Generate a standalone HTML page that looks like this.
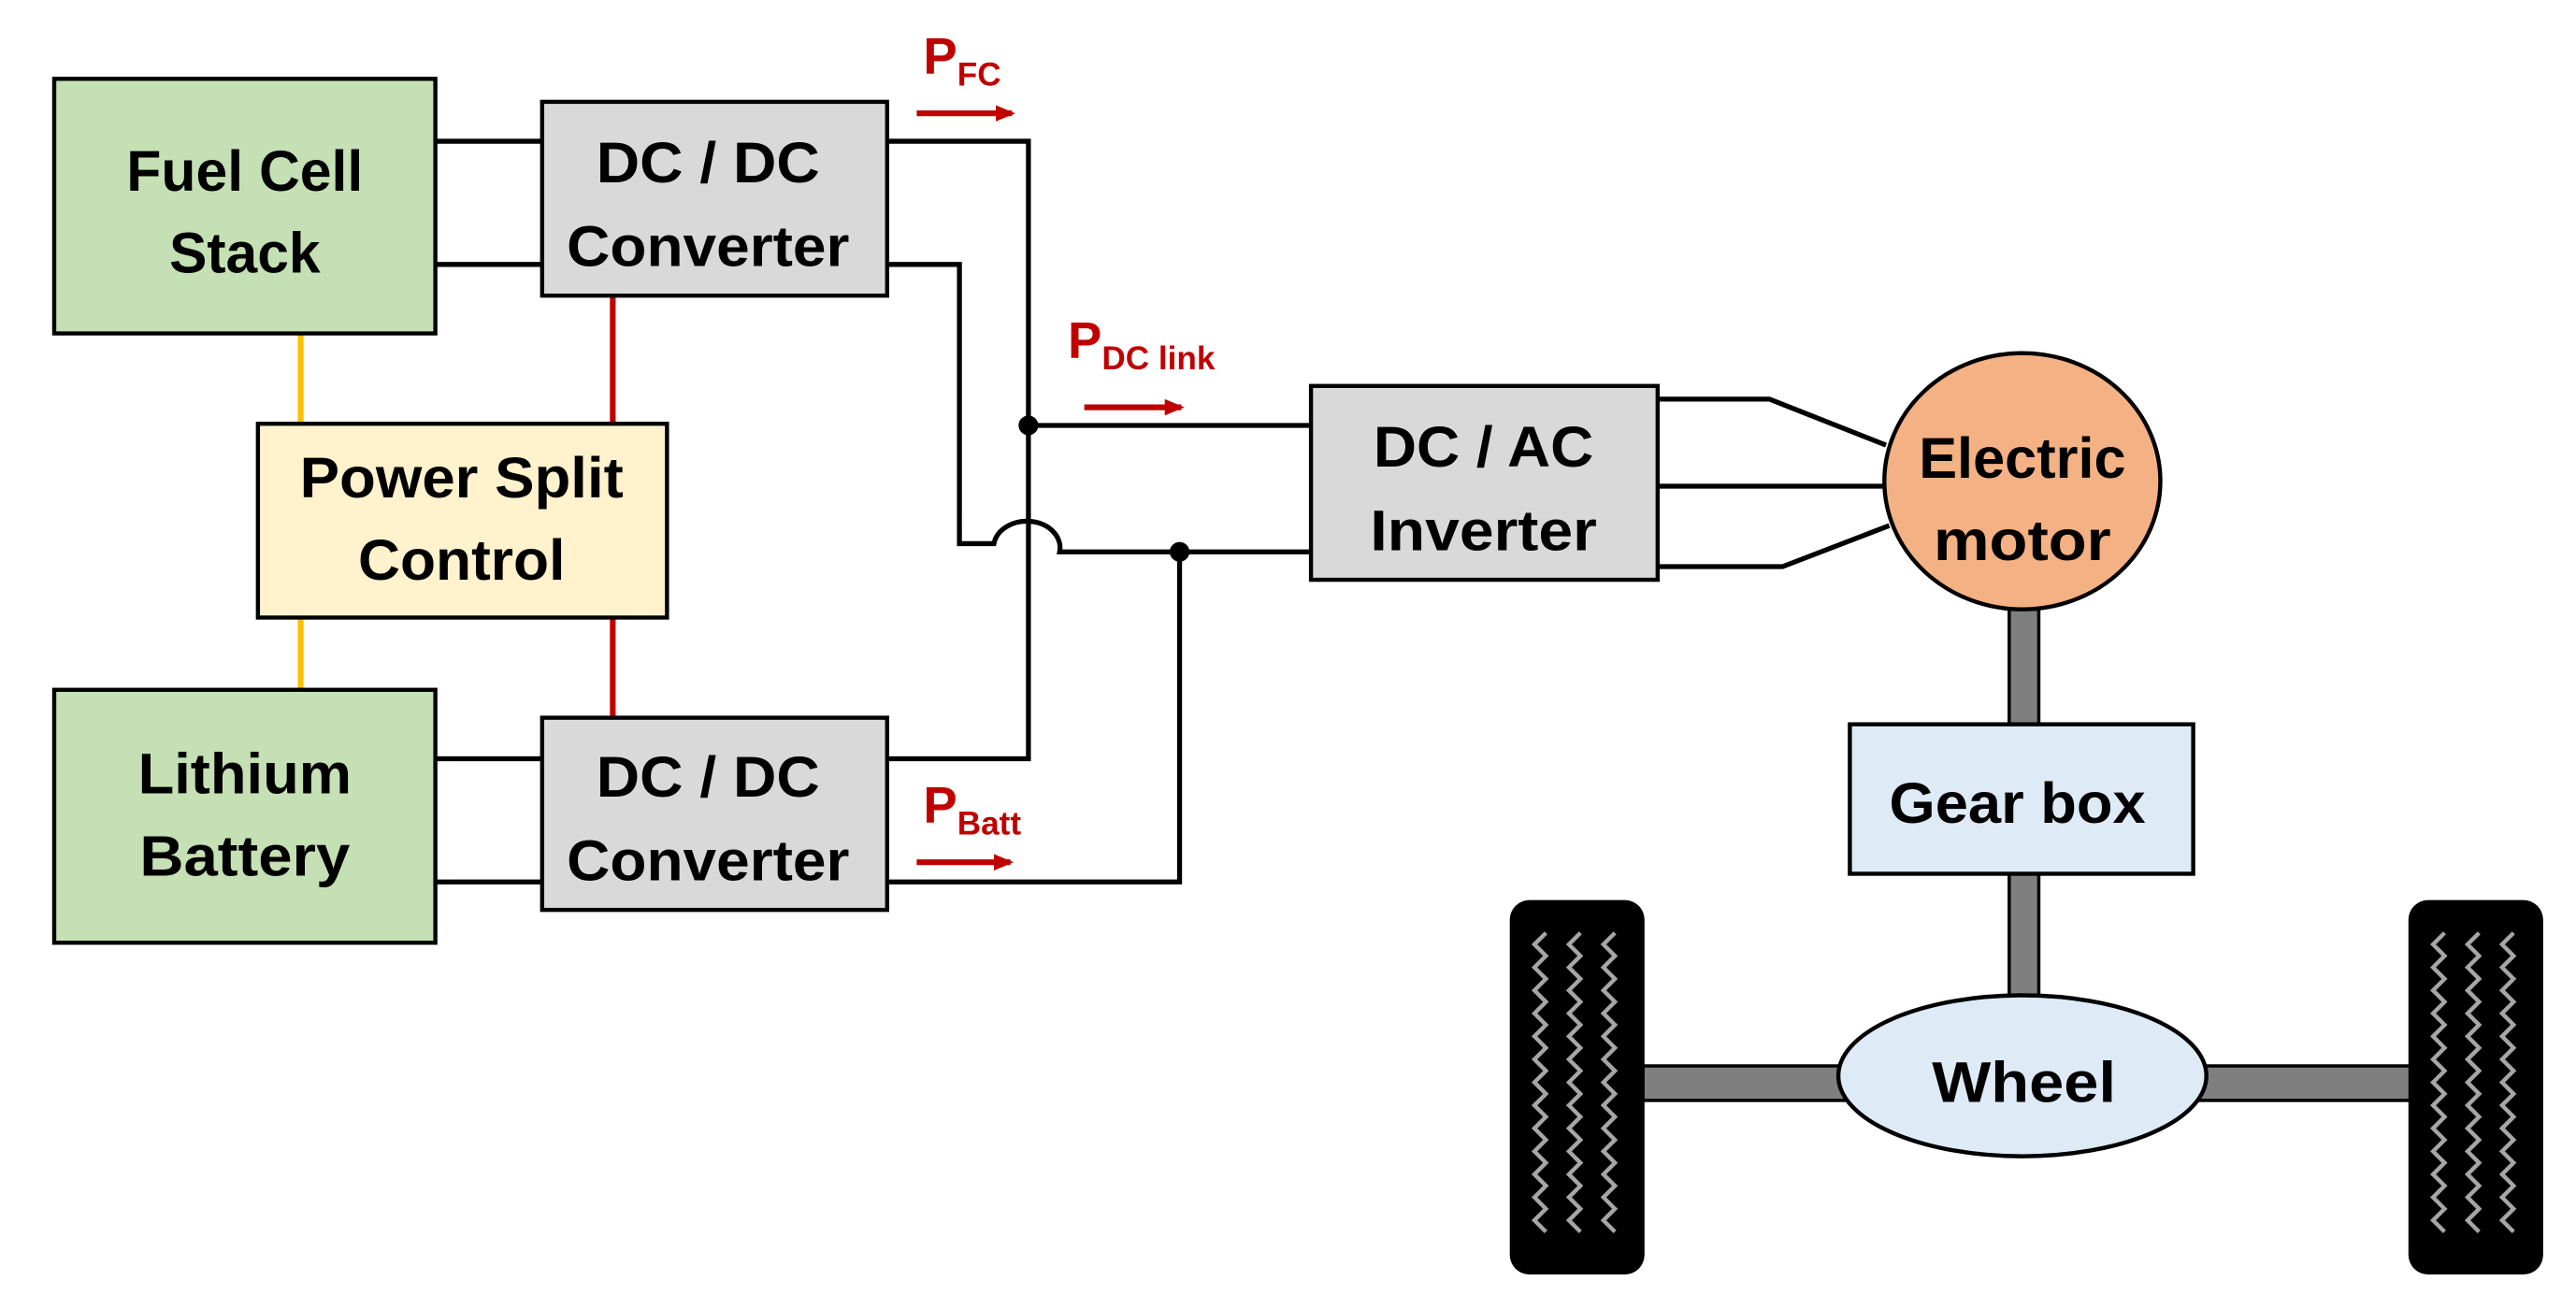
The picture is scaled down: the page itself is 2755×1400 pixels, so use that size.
<!DOCTYPE html>
<html><head><meta charset="utf-8"><style>
html,body{margin:0;padding:0;background:#fff;}
svg{display:block}
text{font-family:"Liberation Sans",sans-serif;font-weight:bold;fill:#000;}
</style></head><body>
<svg width="2755" height="1400" viewBox="0 0 1568 797" preserveAspectRatio="none" xmlns="http://www.w3.org/2000/svg">
<defs>
<marker id="ah" markerWidth="12" markerHeight="10" refX="10" refY="5" orient="auto" markerUnits="userSpaceOnUse"><path d="M0,0 L12,5 L0,10 Z" fill="#c00000"/></marker>
</defs>
<g stroke-width="3.5">
<line x1="183" y1="203" x2="183" y2="258" stroke="#ffc000"/>
<line x1="183" y1="376" x2="183" y2="420" stroke="#ffc000"/>
<line x1="373" y1="180" x2="373" y2="258" stroke="#c00000"/>
<line x1="373" y1="376" x2="373" y2="437" stroke="#c00000"/>
</g>
<g stroke="#000" stroke-width="3" fill="none">
<line x1="265" y1="86" x2="330" y2="86"/>
<line x1="265" y1="161" x2="330" y2="161"/>
<line x1="265" y1="462" x2="330" y2="462"/>
<line x1="265" y1="537" x2="330" y2="537"/>
<polyline points="540,86 626,86 626,462 540,462"/>
<path d="M540,161 L584,161 L584,331 L605,331 A20,16 0 0 1 645,336 L798,336"/>
<line x1="626" y1="259" x2="798" y2="259"/>
<polyline points="540,537 718,537 718,336"/>
<polyline points="1009,243 1077,243 1148,271"/>
<line x1="1009" y1="296" x2="1146" y2="296"/>
<polyline points="1009,345 1085,345 1150,320"/>
</g>
<circle cx="626" cy="259" r="6" fill="#000"/>
<circle cx="718" cy="336" r="6" fill="#000"/>
<g stroke="#c00000" stroke-width="3.5" marker-end="url(#ah)">
<line x1="558" y1="69" x2="616" y2="69"/>
<line x1="660" y1="248" x2="719" y2="248"/>
<line x1="558" y1="525" x2="615" y2="525"/>
</g>
<text x="562" y="45" font-size="31" style="fill:#c00000">P<tspan font-size="20" dy="7">FC</tspan></text>
<text x="650" y="218" font-size="31" style="fill:#c00000">P<tspan font-size="20" dy="7">DC link</tspan></text>
<text x="562" y="501" font-size="31" style="fill:#c00000">P<tspan font-size="20" dy="7">Batt</tspan></text>
<g stroke="#000" stroke-width="2.5">
<rect x="33" y="48" width="232" height="155" fill="#c5e0b4"/>
<rect x="33" y="420" width="232" height="154" fill="#c5e0b4"/>
<rect x="330" y="62" width="210" height="118" fill="#d9d9d9"/>
<rect x="330" y="437" width="210" height="117" fill="#d9d9d9"/>
<rect x="157" y="258" width="249" height="118" fill="#fff2cc"/>
<rect x="798" y="235" width="211" height="118" fill="#d9d9d9"/>
</g>
<rect x="1223" y="371" width="18" height="70" fill="#7f7f7f" stroke="#000" stroke-width="2"/>
<rect x="1223" y="532" width="18" height="76" fill="#7f7f7f" stroke="#000" stroke-width="2"/>
<rect x="1000" y="649" width="468" height="21" fill="#7f7f7f" stroke="#000" stroke-width="2"/>
<ellipse cx="1231" cy="293" rx="84" ry="78" fill="#f4b183" stroke="#000" stroke-width="2.5"/>
<rect x="1126" y="441" width="209" height="91" fill="#deebf7" stroke="#000" stroke-width="2.5"/>
<ellipse cx="1231" cy="655" rx="112" ry="49" fill="#deebf7" stroke="#000" stroke-width="2.5"/>
<rect x="919" y="548" width="82" height="228" rx="12" fill="#000"/>
<rect x="1466" y="548" width="82" height="228" rx="12" fill="#000"/>
<g stroke="#a6a6a6" stroke-width="2.5" fill="none">
<path id="zz" d="M941,568 l-7,7 l7,7 l-7,7 l7,7 l-7,7 l7,7 l-7,7 l7,7 l-7,7 l7,7 l-7,7 l7,7 l-7,7 l7,7 l-7,7 l7,7 l-7,7 l7,7 l-7,7 l7,7 l-7,7 l7,7 l-7,7 l7,7 l-7,7 l7,7"/>
<use href="#zz" x="21"/><use href="#zz" x="42"/>
<use href="#zz" x="547"/><use href="#zz" x="568"/><use href="#zz" x="589"/>
</g>
<g font-size="35" text-anchor="middle">
<text x="149" y="116" textLength="144" lengthAdjust="spacingAndGlyphs">Fuel Cell</text>
<text x="149" y="166" textLength="92" lengthAdjust="spacingAndGlyphs">Stack</text>
<text x="431" y="111" textLength="136" lengthAdjust="spacingAndGlyphs">DC / DC</text>
<text x="431" y="162" textLength="172" lengthAdjust="spacingAndGlyphs">Converter</text>
<text x="281" y="303" textLength="197" lengthAdjust="spacingAndGlyphs">Power Split</text>
<text x="281" y="353" textLength="126" lengthAdjust="spacingAndGlyphs">Control</text>
<text x="149" y="483" textLength="130" lengthAdjust="spacingAndGlyphs">Lithium</text>
<text x="149" y="533" textLength="128" lengthAdjust="spacingAndGlyphs">Battery</text>
<text x="431" y="485" textLength="136" lengthAdjust="spacingAndGlyphs">DC / DC</text>
<text x="431" y="536" textLength="172" lengthAdjust="spacingAndGlyphs">Converter</text>
<text x="903" y="284" textLength="134" lengthAdjust="spacingAndGlyphs">DC / AC</text>
<text x="903" y="335" textLength="138" lengthAdjust="spacingAndGlyphs">Inverter</text>
<text x="1231" y="291" textLength="126" lengthAdjust="spacingAndGlyphs">Electric</text>
<text x="1231" y="341" textLength="108" lengthAdjust="spacingAndGlyphs">motor</text>
<text x="1228" y="501" textLength="156" lengthAdjust="spacingAndGlyphs">Gear box</text>
<text x="1232" y="671" textLength="112" lengthAdjust="spacingAndGlyphs">Wheel</text>
</g>
</svg>
</body></html>
